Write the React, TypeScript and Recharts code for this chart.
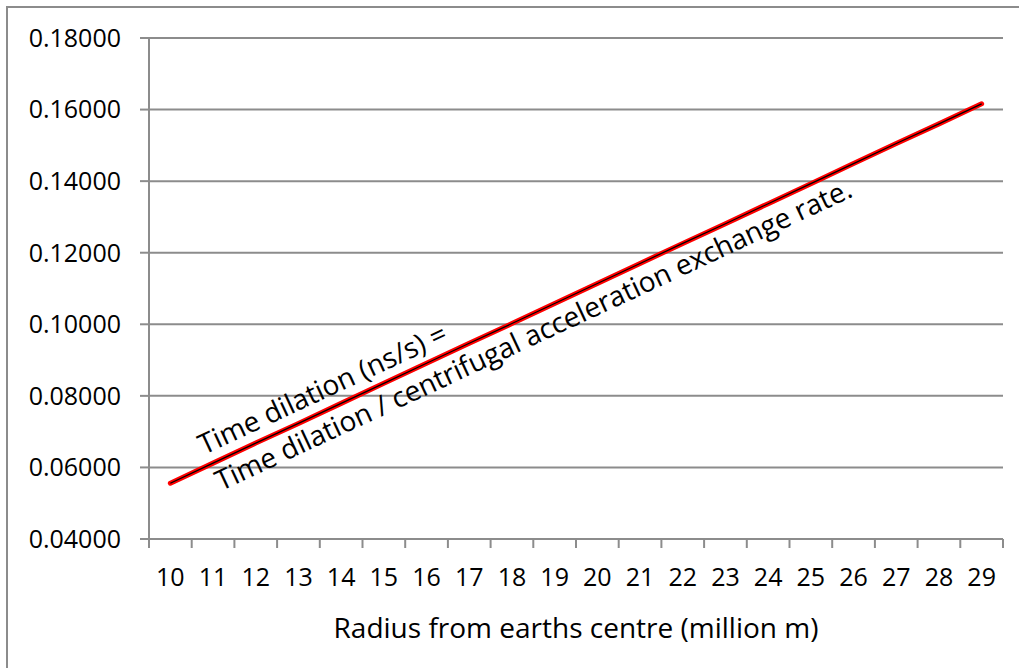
import { CartesianGrid, Label, Line, LineChart, XAxis, YAxis } from "recharts";

// radius from earth's centre, million m
const radii = [10, 11, 12, 13, 14, 15, 16, 17, 18, 19, 20, 21, 22, 23, 24, 25, 26, 27, 28, 29];
// time dilation, ns/s
const dilation = [
  0.0556, 0.0612, 0.0668, 0.0723, 0.0779, 0.0835, 0.0891, 0.0947, 0.1002, 0.1058,
  0.1114, 0.117, 0.1226, 0.1281, 0.1337, 0.1393, 0.1449, 0.1505, 0.156, 0.1616,
];
const yTicks = [0.04, 0.06, 0.08, 0.1, 0.12, 0.14, 0.16, 0.18];
const xTitle = "Radius from earths centre (million m)";
const noteLines = ["Time dilation (ns/s) =", "Time dilation / centrifugal acceleration exchange rate."];

const rows = radii.map((r, i) => ({ r, td: dilation[i] }));
// excel style: tick marks sit between the categories
const bounds = [...radii.map((r) => r - 0.5), radii[radii.length - 1] + 0.5];

const FONT = "'Open Sans', sans-serif";
const GRAY = "#8c8c8c";
const W = 1019;
const H = 668;
const MARGIN = { top: 38, right: 16, left: 0, bottom: 0 };
const Y_W = 149;
const HALF_BAND = (W - MARGIN.right - Y_W) / radii.length / 2;

function CatTick(props: any) {
  const { x, y, index } = props;
  if (index >= radii.length) return <g />;
  return (
    <text x={x + HALF_BAND} y={y} dy="0.71em" textAnchor="middle" fontFamily={FONT} fontSize={25} fill="#000">
      {radii[index]}
    </text>
  );
}

export default function App() {
  return (
    <div style={{ position: "absolute", left: 0, top: 0, width: W, height: H, overflow: "hidden", background: "#fff" }}>
      <div
        style={{
          position: "absolute",
          left: 6,
          top: 6,
          width: 1100,
          height: 800,
          border: `2px solid ${GRAY}`,
        }}
      />
      <div style={{ position: "absolute", left: 0, top: 0 }}>
        <LineChart width={W} height={H} data={rows} margin={MARGIN}>
          <CartesianGrid vertical={false} stroke={GRAY} strokeWidth={2} />
          <XAxis
            dataKey="r"
            type="number"
            domain={[bounds[0], bounds[bounds.length - 1]]}
            ticks={bounds}
            interval={0}
            tick={<CatTick />}
            tickSize={9}
            tickMargin={20}
            height={129}
            stroke={GRAY}
            strokeWidth={2}
          >
            <Label
              value={xTitle}
              position="insideBottom"
              offset={30}
              style={{ fontFamily: FONT, fontSize: 28, fill: "#000" }}
            />
          </XAxis>
          <YAxis
            type="number"
            domain={[0.04, 0.18]}
            ticks={yTicks}
            interval={0}
            width={Y_W}
            tickSize={9}
            tickMargin={19}
            tickFormatter={(v: number) => v.toFixed(5)}
            tick={{ fontFamily: FONT, fontSize: 25, fill: "#000" }}
            stroke={GRAY}
            strokeWidth={2}
          />
          <Line
            dataKey="td"
            stroke="#ff0000"
            strokeWidth={5}
            strokeLinecap="round"
            dot={false}
            activeDot={false}
            isAnimationActive={false}
          />
          <Line
            dataKey="td"
            stroke="#000"
            strokeWidth={1.2}
            dot={false}
            activeDot={false}
            isAnimationActive={false}
          />
        </LineChart>
      </div>
      <svg width={W} height={H} style={{ position: "absolute", left: 0, top: 0, pointerEvents: "none" }}>
        <g transform="translate(204,455) rotate(-25)" fontFamily={FONT} fontSize={28} fill="#000">
          <text x={0} y={0}>{noteLines[0]}</text>
          <text x={0} y={40}>{noteLines[1]}</text>
        </g>
      </svg>
    </div>
  );
}
